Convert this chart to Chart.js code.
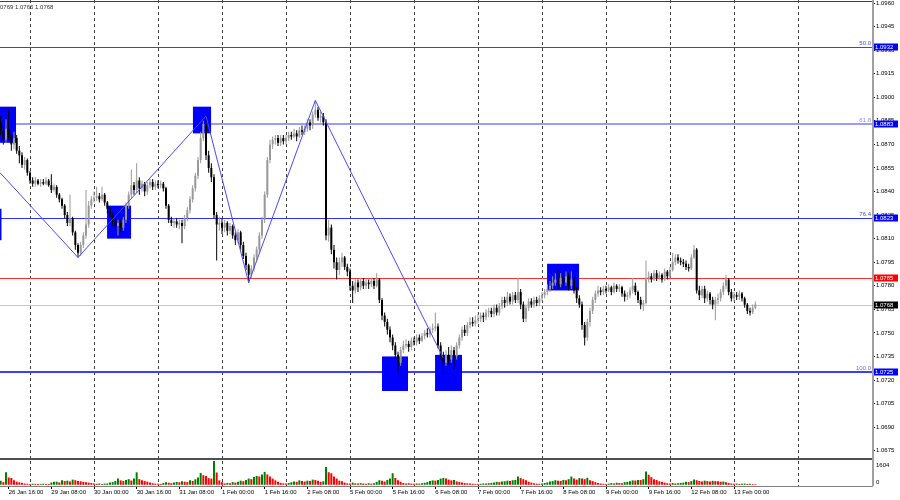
<!DOCTYPE html>
<html>
<head>
<meta charset="utf-8">
<script src="https://cdn.jsdelivr.net/npm/chart.js@4.4.1/dist/chart.umd.min.js"></script>
<style>
  html, body { margin: 0; padding: 0; background: #fff; }
  #wrap { position: relative; width: 900px; height: 500px; overflow: hidden; }
  #priceChart { position: absolute; left: 0; top: 0; }
  #volChart { position: absolute; left: 0; top: 458px; }
</style>
</head>
<body>
<div id="wrap">
  <canvas id="priceChart" width="900" height="458"></canvas>
  <canvas id="volChart" width="900" height="42"></canvas>
</div>
<script>
// H1 bars, bar 0 = 29 Jan 00:00, weekends skipped; first bar is 26 Jan 13:00
const firstBar = -11;
const firstOpen = 1.0884;

const closes = [
  1.0879, 1.0873, 1.0880, 1.0876, 1.0870, 1.0874, 1.0866, 1.0863, 1.0857, 1.0860, 1.0852,
  1.0847, 1.0845, 1.0847, 1.0845, 1.0846, 1.0845, 1.0847, 1.0844, 1.0841, 1.0843, 1.0838, 1.0835, 1.0831, 1.0825, 1.0820, 1.0823, 1.0814, 1.0806, 1.0801, 1.0806, 1.0812, 1.0819, 1.0831, 1.0835,
  1.0836, 1.0837, 1.0835, 1.0838, 1.0833, 1.0829, 1.0825, 1.0822, 1.0818, 1.0820, 1.0817, 1.0822, 1.0831, 1.0838, 1.0844, 1.0841, 1.0847, 1.0842, 1.0845, 1.0840, 1.0844, 1.0846, 1.0843, 1.0845,
  1.0844, 1.0845, 1.0842, 1.0831, 1.0822, 1.0820, 1.0821, 1.0819, 1.0820, 1.0818, 1.0823, 1.0828, 1.0835, 1.0842, 1.0850, 1.0860, 1.0874, 1.0883, 1.0863, 1.0855, 1.0849, 1.0825, 1.0819, 1.0820,
  1.0817, 1.0820, 1.0815, 1.0818, 1.0812, 1.0809, 1.0814, 1.0806, 1.0799, 1.0793, 1.0787, 1.0791, 1.0798, 1.0803, 1.0812, 1.0822, 1.0838, 1.0860, 1.0870, 1.0873, 1.0874, 1.0871, 1.0874, 1.0872,
  1.0874, 1.0876, 1.0875, 1.0877, 1.0875, 1.0879, 1.0878, 1.0880, 1.0884, 1.0882, 1.0889, 1.0892, 1.0887, 1.0888, 1.0884, 1.0812, 1.0817, 1.0803, 1.0795, 1.0790, 1.0795, 1.0798, 1.0792, 1.0789,
  1.0780, 1.0777, 1.0782, 1.0779, 1.0783, 1.0780, 1.0782, 1.0781, 1.0783, 1.0780, 1.0784, 1.0771, 1.0761, 1.0757, 1.0752, 1.0747, 1.0742, 1.0736, 1.0731, 1.0739, 1.0742, 1.0743, 1.0741, 1.0745,
  1.0744, 1.0747, 1.0745, 1.0748, 1.0750, 1.0749, 1.0752, 1.0753, 1.0754, 1.0742, 1.0736, 1.0731, 1.0736, 1.0733, 1.0739, 1.0735, 1.0742, 1.0747, 1.0752, 1.0750, 1.0755, 1.0757, 1.0756, 1.0758,
  1.0759, 1.0761, 1.0760, 1.0763, 1.0764, 1.0762, 1.0766, 1.0763, 1.0767, 1.0771, 1.0769, 1.0773, 1.0770, 1.0774, 1.0771, 1.0776, 1.0768, 1.0759, 1.0766, 1.0770, 1.0768, 1.0771, 1.0769, 1.0772,
  1.0774, 1.0776, 1.0778, 1.0780, 1.0782, 1.0784, 1.0781, 1.0785, 1.0782, 1.0786, 1.0780, 1.0784, 1.0777, 1.0772, 1.0768, 1.0755, 1.0747, 1.0757, 1.0764, 1.0771, 1.0775, 1.0777, 1.0776, 1.0778,
  1.0777, 1.0779, 1.0776, 1.0780, 1.0778, 1.0779, 1.0775, 1.0773, 1.0774, 1.0777, 1.0780, 1.0776, 1.0771, 1.0768, 1.0769, 1.0784, 1.0786, 1.0784, 1.0788, 1.0785, 1.0787, 1.0784, 1.0789, 1.0786,
  1.0790, 1.0795, 1.0798, 1.0796, 1.0795, 1.0794, 1.0792, 1.0791, 1.0798, 1.0803, 1.0777, 1.0774, 1.0778, 1.0772, 1.0775, 1.0771, 1.0768, 1.0771, 1.0772, 1.0776, 1.0780, 1.0784, 1.0776, 1.0772,
  1.0774, 1.0773, 1.0775, 1.0772, 1.0768, 1.0764, 1.0763, 1.0766, 1.0768
];
const highs = [
  1.0888, 1.0882, 1.0886, 1.0892, 1.0879, 1.0878, 1.0876, 1.0869, 1.0865, 1.0862, 1.0861,
  1.0853, 1.0849, 1.0849, 1.0848, 1.0848, 1.0848, 1.0849, 1.0848, 1.0851, 1.0845, 1.0844, 1.0839, 1.0836, 1.0832, 1.0827, 1.0838, 1.0824, 1.0815, 1.0807, 1.0808, 1.0814, 1.0841, 1.0834, 1.0837,
  1.0840, 1.0843, 1.0839, 1.0843, 1.0839, 1.0834, 1.0830, 1.0826, 1.0823, 1.0822, 1.0822, 1.0824, 1.0833, 1.0840, 1.0854, 1.0846, 1.0858, 1.0849, 1.0847, 1.0846, 1.0846, 1.0848, 1.0848, 1.0847,
  1.0847, 1.0847, 1.0846, 1.0843, 1.0832, 1.0824, 1.0823, 1.0823, 1.0822, 1.0822, 1.0825, 1.0830, 1.0837, 1.0844, 1.0852, 1.0862, 1.0878, 1.0885, 1.0888, 1.0866, 1.0858, 1.0851, 1.0827, 1.0824,
  1.0823, 1.0822, 1.0821, 1.0820, 1.0819, 1.0814, 1.0816, 1.0815, 1.0808, 1.0801, 1.0794, 1.0793, 1.0800, 1.0805, 1.0814, 1.0824, 1.0840, 1.0862, 1.0873, 1.0875, 1.0876, 1.0876, 1.0876, 1.0876,
  1.0876, 1.0878, 1.0878, 1.0880, 1.0879, 1.0881, 1.0882, 1.0882, 1.0886, 1.0886, 1.0891, 1.0898, 1.0894, 1.0891, 1.0890, 1.0886, 1.0822, 1.0819, 1.0806, 1.0798, 1.0798, 1.0801, 1.0799, 1.0794,
  1.0791, 1.0783, 1.0784, 1.0784, 1.0785, 1.0785, 1.0784, 1.0784, 1.0785, 1.0785, 1.0788, 1.0785, 1.0772, 1.0763, 1.0759, 1.0754, 1.0749, 1.0744, 1.0738, 1.0741, 1.0745, 1.0746, 1.0745, 1.0747,
  1.0747, 1.0749, 1.0749, 1.0750, 1.0752, 1.0753, 1.0754, 1.0756, 1.0763, 1.0756, 1.0744, 1.0738, 1.0739, 1.0741, 1.0742, 1.0741, 1.0744, 1.0749, 1.0754, 1.0755, 1.0757, 1.0760, 1.0760, 1.0761,
  1.0762, 1.0763, 1.0763, 1.0765, 1.0766, 1.0766, 1.0768, 1.0768, 1.0769, 1.0773, 1.0773, 1.0776, 1.0775, 1.0776, 1.0776, 1.0785, 1.0778, 1.0770, 1.0768, 1.0772, 1.0772, 1.0773, 1.0773, 1.0774,
  1.0776, 1.0778, 1.0781, 1.0783, 1.0786, 1.0788, 1.0790, 1.0788, 1.0789, 1.0789, 1.0788, 1.0789, 1.0786, 1.0779, 1.0774, 1.0770, 1.0757, 1.0759, 1.0766, 1.0773, 1.0777, 1.0780, 1.0779, 1.0780,
  1.0780, 1.0781, 1.0780, 1.0782, 1.0781, 1.0781, 1.0780, 1.0777, 1.0776, 1.0779, 1.0785, 1.0782, 1.0777, 1.0773, 1.0771, 1.0796, 1.0789, 1.0788, 1.0790, 1.0790, 1.0789, 1.0788, 1.0791, 1.0790,
  1.0792, 1.0801, 1.0800, 1.0800, 1.0798, 1.0797, 1.0796, 1.0794, 1.0800, 1.0806, 1.0804, 1.0780, 1.0780, 1.0780, 1.0777, 1.0776, 1.0773, 1.0773, 1.0775, 1.0778, 1.0782, 1.0787, 1.0785, 1.0778,
  1.0776, 1.0776, 1.0777, 1.0776, 1.0773, 1.0769, 1.0766, 1.0768, 1.0770
];
const lows = [
  1.0876, 1.0870, 1.0871, 1.0873, 1.0866, 1.0867, 1.0864, 1.0858, 1.0855, 1.0854, 1.0850,
  1.0845, 1.0843, 1.0843, 1.0844, 1.0843, 1.0844, 1.0844, 1.0843, 1.0839, 1.0840, 1.0836, 1.0833, 1.0829, 1.0823, 1.0818, 1.0818, 1.0812, 1.0803, 1.0798, 1.0799, 1.0804, 1.0810, 1.0817, 1.0829,
  1.0833, 1.0834, 1.0833, 1.0834, 1.0831, 1.0826, 1.0823, 1.0818, 1.0815, 1.0812, 1.0814, 1.0815, 1.0820, 1.0829, 1.0836, 1.0838, 1.0839, 1.0838, 1.0840, 1.0837, 1.0838, 1.0842, 1.0841, 1.0841,
  1.0842, 1.0842, 1.0840, 1.0829, 1.0820, 1.0818, 1.0817, 1.0817, 1.0816, 1.0807, 1.0816, 1.0821, 1.0826, 1.0833, 1.0840, 1.0848, 1.0858, 1.0872, 1.0860, 1.0852, 1.0846, 1.0823, 1.0796, 1.0815,
  1.0813, 1.0814, 1.0812, 1.0813, 1.0810, 1.0806, 1.0807, 1.0803, 1.0797, 1.0790, 1.0782, 1.0785, 1.0789, 1.0796, 1.0801, 1.0810, 1.0820, 1.0836, 1.0858, 1.0867, 1.0870, 1.0869, 1.0869, 1.0870,
  1.0870, 1.0872, 1.0873, 1.0874, 1.0872, 1.0874, 1.0876, 1.0876, 1.0878, 1.0879, 1.0880, 1.0887, 1.0885, 1.0884, 1.0882, 1.0809, 1.0808, 1.0800, 1.0791, 1.0784, 1.0787, 1.0792, 1.0790, 1.0786,
  1.0777, 1.0769, 1.0775, 1.0776, 1.0777, 1.0778, 1.0778, 1.0778, 1.0779, 1.0778, 1.0779, 1.0769, 1.0758, 1.0754, 1.0749, 1.0744, 1.0739, 1.0733, 1.0725, 1.0729, 1.0737, 1.0740, 1.0738, 1.0739,
  1.0742, 1.0742, 1.0743, 1.0744, 1.0746, 1.0747, 1.0747, 1.0750, 1.0751, 1.0740, 1.0733, 1.0724, 1.0729, 1.0730, 1.0731, 1.0727, 1.0733, 1.0740, 1.0745, 1.0748, 1.0748, 1.0753, 1.0754, 1.0754,
  1.0756, 1.0757, 1.0757, 1.0758, 1.0760, 1.0760, 1.0760, 1.0761, 1.0761, 1.0765, 1.0766, 1.0767, 1.0768, 1.0768, 1.0769, 1.0769, 1.0765, 1.0757, 1.0757, 1.0764, 1.0766, 1.0766, 1.0767, 1.0767,
  1.0770, 1.0772, 1.0774, 1.0776, 1.0778, 1.0780, 1.0778, 1.0779, 1.0779, 1.0780, 1.0777, 1.0778, 1.0775, 1.0769, 1.0766, 1.0752, 1.0742, 1.0745, 1.0754, 1.0762, 1.0769, 1.0773, 1.0774, 1.0774,
  1.0775, 1.0776, 1.0774, 1.0775, 1.0776, 1.0776, 1.0773, 1.0770, 1.0771, 1.0772, 1.0775, 1.0774, 1.0769, 1.0765, 1.0764, 1.0768, 1.0782, 1.0782, 1.0783, 1.0783, 1.0784, 1.0782, 1.0783, 1.0784,
  1.0785, 1.0789, 1.0793, 1.0794, 1.0793, 1.0792, 1.0790, 1.0789, 1.0790, 1.0797, 1.0775, 1.0771, 1.0772, 1.0769, 1.0770, 1.0768, 1.0765, 1.0758, 1.0768, 1.0770, 1.0774, 1.0778, 1.0774, 1.0770,
  1.0770, 1.0771, 1.0771, 1.0770, 1.0766, 1.0762, 1.0761, 1.0762, 1.0765
];
const volumes = [
  280, 180, 840, 490, 460, 300, 210, 170, 140, 90, 70,
  60, 70, 60, 55, 60, 70, 60, 50, 150, 200, 210, 160, 300, 250, 280, 220, 350, 310, 260, 240, 200, 170, 150, 120,
  80, 70, 90, 60, 80, 90, 150, 180, 260, 420, 300, 250, 330, 380, 290, 420, 840, 380, 300, 260, 210, 150, 110, 80,
  70, 60, 120, 180, 140, 110, 150, 190, 170, 240, 210, 180, 300, 260, 370, 490, 800, 650, 600, 450, 420, 1604, 830, 300,
  180, 90, 120, 100, 180, 150, 200, 280, 240, 320, 420, 380, 520, 600, 560, 700, 870, 700, 560, 420, 300, 200, 130, 100,
  90, 120, 170, 230, 200, 300, 250, 220, 280, 250, 350, 320, 280, 200, 240, 1200, 850, 780, 560, 420, 280, 240, 150, 100,
  90, 150, 100, 80, 110, 90, 70, 100, 80, 110, 200, 310, 280, 220, 330, 420, 780, 460, 300, 200, 120, 90, 110, 80,
  70, 90, 80, 110, 140, 180, 250, 300, 280, 330, 420, 460, 420, 350, 300, 320, 230, 200, 160, 120, 100, 80, 70, 60,
  50, 70, 90, 80, 110, 130, 160, 200, 180, 220, 240, 280, 250, 310, 330, 560, 450, 380, 300, 210, 150, 110, 80, 70,
  90, 120, 160, 220, 250, 310, 280, 260, 330, 300, 380, 560, 420, 350, 450, 420, 380, 470, 310, 250, 180, 120, 90, 70,
  60, 80, 110, 90, 140, 120, 100, 180, 200, 240, 300, 290, 330, 320, 380, 900, 680, 520, 380, 320, 240, 200, 150, 110,
  80, 120, 90, 110, 130, 150, 200, 180, 250, 350, 310, 260, 230, 280, 250, 230, 270, 250, 240, 210, 220, 170, 120, 90,
  70, 80, 60, 70, 80, 60, 70, 50, 40
];
const volumeMax = 1604;

const priceTicks = [1.0960, 1.0945, 1.0930, 1.0915, 1.0900, 1.0885, 1.0870, 1.0855, 1.0840, 1.0825,
  1.0810, 1.0795, 1.0780, 1.0765, 1.0750, 1.0735, 1.0720, 1.0705, 1.0690, 1.0675];
const timeLabels = ['26 Jan 16:00', '29 Jan 08:00', '30 Jan 00:00', '30 Jan 16:00', '31 Jan 08:00',
  '1 Feb 00:00', '1 Feb 16:00', '2 Feb 08:00', '5 Feb 00:00', '5 Feb 16:00', '6 Feb 08:00',
  '7 Feb 00:00', '7 Feb 16:00', '8 Feb 08:00', '9 Feb 00:00', '9 Feb 16:00', '12 Feb 08:00', '13 Feb 00:00'];
const timeLabelBars = [-8, 8, 24, 40, 56, 72, 88, 104, 120, 136, 152, 168, 184, 200, 216, 232, 248, 264];

const headerQuote = [1.0769, 1.0766, 1.0768];
const fiboPrices = [1.0932, 1.0883, 1.0823, 1.0725];
const fiboNames = ['50.0', '61.8', '76.4', '100.0'];
const resistance = 1.0785;
const bidPrice = 1.0768;
const tagPrices = [1.0932, 1.0883, 1.0823, 1.0785, 1.0768, 1.0725];

const zigzagBars = [-11.25, 18, 66, 82, 107, 155];
const zigzagPrices = [1.0852, 1.0798, 1.0888, 1.0782, 1.0898, 1.0734];

const zoneBars = [[-12, -5.25], [28.9, 37.9], [61.1, 67.9], [132, 141.75], [151.9, 162], [193.9, 205.9], [-12, -10.7]];
const zonePrices = [[1.0894, 1.0871], [1.0831, 1.0810], [1.0894, 1.0877], [1.0735, 1.0713], [1.0736, 1.0713], [1.0794, 1.0777], [1.0829, 1.0809]];

// view window
const xMin = -11.25, xMax = 315.75;
const yMin = 1.067035, yMax = 1.096191;

// styles
const fiboLineColors = ['#3c3cff', '#9a9aff', '#3030ff', '#3c3cff'];
const fiboLineWidths = [1, 2, 1, 2];
const fiboTextColors = ['#4a4aff', '#8a8aff', '#4a4aff', '#6a6aff'];
const tagColors = ['#0000ff', '#0000ff', '#0000ff', '#ff0000', '#000000', '#0000ff'];
const FONT = '"Liberation Sans", Arial, sans-serif';

Chart.defaults.font.family = FONT;

const bars = closes.map((c, k) => firstBar + k);
const opens = closes.map((c, k) => k === 0 ? firstOpen : closes[k - 1]);
const candleColors = closes.map((c, k) => c >= opens[k] ? '#999999' : '#000000');
const volColors = volumes.map((v, k) => k === 0 || v > volumes[k - 1] ? '#008000' : '#ff0000');

function dayGrid(chart) {
  const {ctx, chartArea: a, scales: {x}} = chart;
  ctx.save();
  ctx.strokeStyle = '#404040';
  ctx.lineWidth = 1;
  ctx.setLineDash([3, 3]);
  for (let b = 0; b <= 288; b += 24) {
    const px = Math.round(x.getPixelForValue(b)) + 0.5;
    ctx.beginPath();
    ctx.moveTo(px, a.top);
    ctx.lineTo(px, a.bottom);
    ctx.stroke();
  }
  ctx.restore();
}

const priceDecor = {
  id: 'priceDecor',
  beforeDatasetsDraw(chart) {
    const {ctx, chartArea: a, scales: {x, y}} = chart;
    dayGrid(chart);
    ctx.save();
    ctx.beginPath();
    ctx.rect(a.left, a.top, a.right - a.left, a.bottom - a.top);
    ctx.clip();
    const hline = (v, color, w) => {
      const py = Math.round(y.getPixelForValue(v)) + (w % 2 ? 0.5 : 0);
      ctx.strokeStyle = color;
      ctx.lineWidth = w;
      ctx.beginPath();
      ctx.moveTo(a.left, py);
      ctx.lineTo(a.right, py);
      ctx.stroke();
    };
    hline(bidPrice, '#c8c8c8', 1);
    hline(resistance, '#ff3030', 1);
    fiboPrices.forEach((v, k) => hline(v, fiboLineColors[k], fiboLineWidths[k]));
    ctx.fillStyle = '#0000ff';
    zoneBars.forEach((zb, k) => {
      const x0 = x.getPixelForValue(zb[0]);
      const x1 = x.getPixelForValue(zb[1]);
      const y0 = y.getPixelForValue(zonePrices[k][0]);
      const y1 = y.getPixelForValue(zonePrices[k][1]);
      ctx.fillRect(x0, y0, x1 - x0, y1 - y0);
    });
    ctx.restore();
  },
  afterDraw(chart) {
    const {ctx, chartArea: a, scales: {y}} = chart;
    ctx.save();
    ctx.fillStyle = '#404040';
    ctx.fillRect(0, 1, a.right, 1);
    ctx.fillStyle = '#a0a0a0';
    ctx.fillRect(a.right, 0, 2, a.bottom);
    ctx.font = '6px ' + FONT;
    ctx.textAlign = 'right';
    ctx.textBaseline = 'bottom';
    fiboPrices.forEach((v, k) => {
      ctx.fillStyle = fiboTextColors[k];
      ctx.fillText(fiboNames[k], a.right - 1, Math.round(y.getPixelForValue(v)) - 1);
    });
    ctx.textAlign = 'left';
    ctx.textBaseline = 'middle';
    tagPrices.forEach((v, k) => {
      const py = Math.round(y.getPixelForValue(v));
      ctx.fillStyle = tagColors[k];
      ctx.fillRect(a.right + 2, py - 3.5, 24, 7);
      ctx.fillStyle = '#ffffff';
      ctx.fillText(v.toFixed(4), a.right + 3, py + 0.5);
    });
    ctx.fillStyle = '#303030';
    ctx.fillText(headerQuote.map(v => v.toFixed(4)).join(' '), -5, 7);
    ctx.restore();
  }
};

const volDecor = {
  id: 'volDecor',
  beforeDatasetsDraw(chart) {
    dayGrid(chart);
  },
  afterDraw(chart) {
    const {ctx, chartArea: a, scales: {y}} = chart;
    ctx.save();
    ctx.fillStyle = '#505050';
    ctx.fillRect(0, 0, a.right, 2);
    ctx.fillStyle = '#a0a0a0';
    ctx.fillRect(a.right, 0, 2, a.bottom);
    ctx.font = '6px ' + FONT;
    ctx.fillStyle = '#000000';
    ctx.textAlign = 'left';
    ctx.textBaseline = 'top';
    ctx.fillText(String(volumeMax), a.right + 4, y.getPixelForValue(volumeMax) + 1);
    ctx.textBaseline = 'bottom';
    ctx.fillText('0', a.right + 4, y.getPixelForValue(0) + 1);
    ctx.restore();
  }
};

new Chart(document.getElementById('priceChart'), {
  type: 'bar',
  data: {
    datasets: [
      {
        type: 'line',
        label: 'ZigZag',
        data: zigzagBars.map((b, k) => ({x: b, y: zigzagPrices[k]})),
        borderColor: '#4848ff',
        borderWidth: 1,
        pointRadius: 0,
        tension: 0,
        order: 0
      },
      {
        label: 'Body',
        data: bars.map((b, k) => ({x: b, y: [opens[k], closes[k]]})),
        backgroundColor: candleColors,
        barThickness: 2,
        minBarLength: 1,
        grouped: false,
        inflateAmount: 0,
        order: 1
      },
      {
        label: 'Wick',
        data: bars.map((b, k) => ({x: b, y: [lows[k], highs[k]]})),
        backgroundColor: candleColors,
        barThickness: 1,
        grouped: false,
        inflateAmount: 0,
        order: 2
      }
    ]
  },
  options: {
    responsive: false,
    animation: false,
    events: [],
    layout: { padding: 0 },
    plugins: { legend: { display: false }, tooltip: { enabled: false } },
    scales: {
      x: { type: 'linear', min: xMin, max: xMax, offset: false, display: false },
      y: {
        position: 'right',
        min: yMin,
        max: yMax,
        bounds: 'data',
        afterBuildTicks: s => { s.ticks = priceTicks.map(v => ({value: v})); },
        afterFit: s => { s.width = 28; s.paddingTop = 0; s.paddingBottom = 0; },
        grid: { drawOnChartArea: false, drawTicks: true, tickLength: 3, color: '#000000' },
        border: { display: true, color: '#a0a0a0', width: 1 },
        ticks: {
          autoSkip: false,
          padding: 1,
          color: '#000000',
          font: { size: 6 },
          callback: v => v.toFixed(4)
        }
      }
    }
  },
  plugins: [priceDecor]
});

new Chart(document.getElementById('volChart'), {
  type: 'bar',
  data: {
    datasets: [{
      label: 'Volumes',
      data: bars.map((b, k) => ({x: b, y: volumes[k]})),
      backgroundColor: volColors,
      barThickness: 2,
      grouped: false,
      inflateAmount: 0
    }]
  },
  options: {
    responsive: false,
    animation: false,
    events: [],
    layout: { padding: { top: 3 } },
    plugins: { legend: { display: false }, tooltip: { enabled: false } },
    scales: {
      x: {
        type: 'linear',
        min: xMin,
        max: xMax,
        offset: false,
        bounds: 'data',
        afterBuildTicks: s => { s.ticks = timeLabelBars.map(v => ({value: v})); },
        afterFit: s => { s.height = 14; s.paddingLeft = 0; s.paddingRight = 0; },
        grid: { drawOnChartArea: false, drawTicks: true, tickLength: 3, offset: false, color: '#000000' },
        border: { display: true, color: '#808080', width: 1 },
        ticks: {
          autoSkip: false,
          maxRotation: 0,
          minRotation: 0,
          align: 'start',
          padding: 0,
          color: '#000000',
          font: { size: 6 },
          callback: (v, i) => timeLabels[i]
        }
      },
      y: {
        position: 'right',
        min: -80,
        max: volumeMax,
        afterFit: s => { s.width = 28; s.paddingTop = 0; s.paddingBottom = 0; },
        ticks: { display: false },
        grid: { display: false },
        border: { display: true, color: '#a0a0a0', width: 1 }
      }
    }
  },
  plugins: [volDecor]
});
</script>
</body>
</html>
